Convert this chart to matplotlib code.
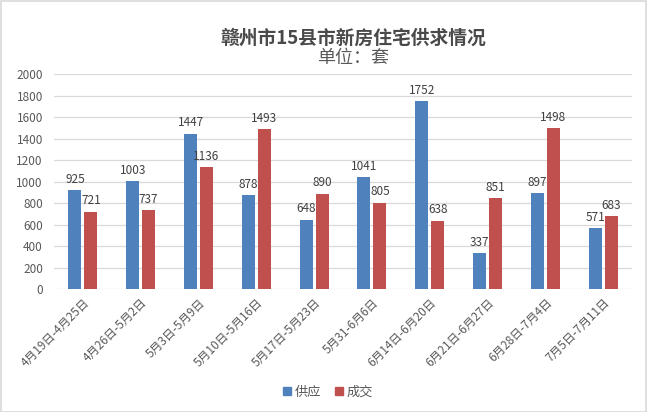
import matplotlib
matplotlib.use("Agg")
import matplotlib.pyplot as plt
import numpy as np
from matplotlib.patches import Rectangle

plt.rcParams['font.family'] = ['Noto Sans CJK SC', 'DejaVu Sans']

categories = ["4月19日-4月25日", "4月26日-5月2日", "5月3日-5月9日", "5月10日-5月16日",
              "5月17日-5月23日", "5月31-6月6日", "6月14日-6月20日", "6月21日-6月27日",
              "6月28日-7月4日", "7月5日-7月11日"]
supply = [925, 1003, 1447, 878, 648, 1041, 1752, 337, 897, 571]
deal = [721, 737, 1136, 1493, 890, 805, 638, 851, 1498, 683]
yticks = [0, 200, 400, 600, 800, 1000, 1200, 1400, 1600, 1800, 2000]

W, H = 647, 412
fig = plt.figure(figsize=(W/100, H/100), dpi=100)
fig.patch.set_facecolor('white')
ax = fig.add_axes([54/W, 1-289.3/H, (632-54)/W, (289.3-74.3)/H])

x = np.arange(len(categories))
bw = 0.225
off = 0.138
blue = '#4F81BD'
red = '#C0504D'
ax.bar(x - off, supply, bw, color=blue, zorder=3)
ax.bar(x + off, deal, bw, color=red, zorder=3)

for xi, v in zip(x - off, supply):
    ax.text(xi, v + 40, str(v), ha='center', va='bottom', fontsize=8.5, color='#404040', zorder=4)
for xi, v in zip(x + off, deal):
    ax.text(xi, v + 40, str(v), ha='center', va='bottom', fontsize=8.5, color='#404040', zorder=4)

ax.set_xlim(-0.5, len(categories) - 0.5)
ax.set_ylim(0, 2000)
ax.set_yticks(yticks)
ax.set_yticklabels([str(t) for t in yticks], fontsize=8.5, color='#595959')
ax.set_xticks(x)
ax.set_xticklabels(categories, rotation=45, ha='right', rotation_mode='anchor',
                   fontsize=8.5, color='#595959')
ax.tick_params(axis='both', length=0, pad=8)
ax.tick_params(axis='x', pad=5)
for s in ax.spines.values():
    s.set_visible(False)
ax.grid(axis='y', color='#D9D9D9', linewidth=0.9, zorder=0)
ax.set_facecolor('white')

fig.text(353/W, 1-38/H, "赣州市15县市新房住宅供求情况", ha='center', va='center',
         fontsize=13.5, fontweight='bold', color='#4a4a4a')
fig.text(353/W, 1-58/H, "单位：套", ha='center', va='center', fontsize=13, color='#595959')

# legend
handles = [Rectangle((0, 0), 1, 1, color=blue), Rectangle((0, 0), 1, 1, color=red)]
fig.legend(handles, ["供应", "成交"], loc='center', bbox_to_anchor=(328/W, 1-392/H),
           ncol=2, frameon=False, fontsize=9.5, handlelength=0.6, handleheight=0.6,
           handletextpad=0.3, columnspacing=1.0, labelcolor='#595959')

# figure border
fig.add_artist(Rectangle((0.5/W, 0.5/H), 1-1.5/W, 1-1.5/H, transform=fig.transFigure,
                         fill=False, edgecolor='#D9D9D9', linewidth=1.2))

fig.savefig("out.png", dpi=100, facecolor='white')
